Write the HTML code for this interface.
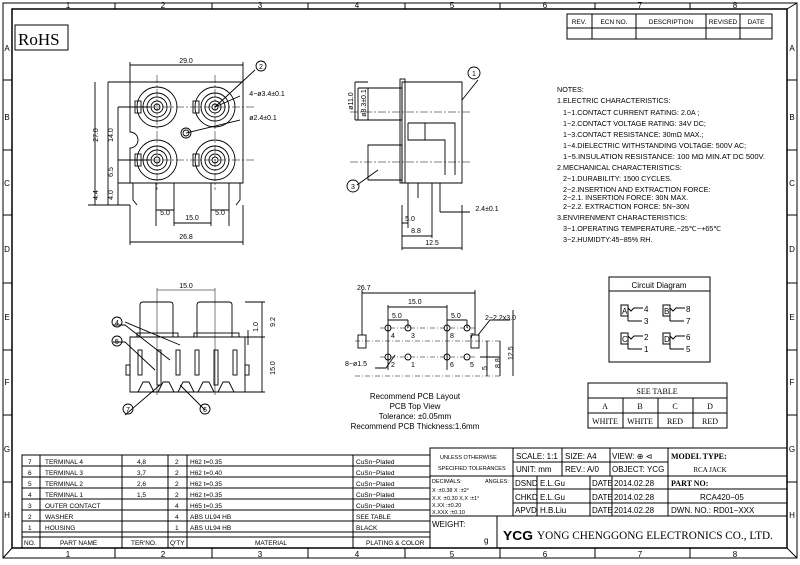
<!DOCTYPE html>
<html><head><meta charset="utf-8"><style>
html,body{margin:0;padding:0;background:#fff;}
svg{display:block;font-family:"Liberation Sans",sans-serif;}
</style></head><body>
<svg width="800" height="565" viewBox="0 0 800 565" xmlns="http://www.w3.org/2000/svg">
<rect width="800" height="565" fill="#fff"/>
<g stroke="#000" fill="none" stroke-width="1">
<rect x="3" y="3" width="794" height="555"/>
<rect x="12" y="9" width="775" height="539" stroke-width="1.5"/>
<line x1="3" y1="558" x2="12" y2="548"/><line x1="797" y1="3" x2="787" y2="9"/><line x1="797" y1="558" x2="787" y2="548"/>
<path d="M115 3V9M212 3V9M308 3V9M405 3V9M500 3V9M595 3V9M690 3V9M115 548V558M212 548V558M308 548V558M405 548V558M500 548V558M595 548V558M690 548V558"/>
<path d="M3 80H12M3 150H12M3 215H12M3 283H12M3 350H12M3 415H12M3 482H12M787 80H797M787 150H797M787 215H797M787 283H797M787 350H797M787 415H797M787 482H797"/>
<rect x="15" y="25" width="53" height="25"/>
<rect x="567" y="14" width="205" height="25"/>
<path d="M567 28H772M592 14V39M636 14V39M706 14V39M740 14V39"/>
<rect x="22" y="455" width="408" height="93"/>
<path d="M22 466H430M22 477H430M22 488H430M22 499H430M22 510H430M22 521H430M22 532H430M22 537H430"/>
<path d="M40 455V548M122 455V548M168 455V548M187 455V548M353 455V548"/>
<rect x="430" y="448" width="357" height="100"/>
<path d="M513 448V516M430 476H513M430 516H787M497 516V548"/>
<path d="M513 462H668M513 476H787M513 489H668M513 503H787M562 448V476M610 448V476M668 448V516M537 476V516M590 476V516M612 476V516M668 489H787"/>
<rect x="609" y="277" width="101" height="85"/>
<path d="M609 291H710"/>
<rect x="621" y="305" width="7" height="11"/><rect x="663" y="305" width="7" height="11"/>
<rect x="621" y="333" width="7" height="11"/><rect x="663" y="333" width="7" height="11"/>
<path d="M628 308l3 3 3-3h9M628 321h14M670 308l3 3 3-3h9M670 321h14M628 336l3 3 3-3h9M628 349h14M670 336l3 3 3-3h9M670 349h14M628 316V321M670 316V321M628 344V349M670 344V349"/>
<rect x="588" y="383" width="139" height="45"/>
<path d="M588 398H727M588 413H727M623 398V428M658 398V428M693 398V428"/>
</g>
<g fill="#000" font-size="8" text-anchor="middle">
<text x="68" y="8">1</text><text x="163" y="8">2</text><text x="260" y="8">3</text><text x="357" y="8">4</text><text x="452" y="8">5</text><text x="545" y="8">6</text><text x="640" y="8">7</text><text x="735" y="8">8</text>
<text x="68" y="557">1</text><text x="163" y="557">2</text><text x="260" y="557">3</text><text x="357" y="557">4</text><text x="452" y="557">5</text><text x="545" y="557">6</text><text x="640" y="557">7</text><text x="735" y="557">8</text>
<text x="7" y="51">A</text><text x="7" y="120">B</text><text x="7" y="186">C</text><text x="7" y="252">D</text><text x="7" y="320">E</text><text x="7" y="385">F</text><text x="7" y="452">G</text><text x="7" y="518">H</text>
<text x="792" y="51">A</text><text x="792" y="120">B</text><text x="792" y="186">C</text><text x="792" y="252">D</text><text x="792" y="320">E</text><text x="792" y="385">F</text><text x="792" y="452">G</text><text x="792" y="518">H</text>
</g>
<text x="18" y="45" font-family="Liberation Serif,serif" font-size="17">RoHS</text>
<g font-size="6.5" text-anchor="middle">
<text x="579" y="24">REV.</text><text x="614" y="24">ECN NO.</text><text x="671" y="24">DESCRIPTION</text><text x="723" y="24">REVISED</text><text x="756" y="24">DATE</text>
</g>
<g font-size="6.5">
<text x="28" y="464">7</text><text x="45" y="464">TERMINAL 4</text><text x="137" y="464">4,8</text><text x="175" y="464">2</text><text x="190" y="464">H62 t=0.35</text><text x="356" y="464">CuSn−Plated</text>
<text x="28" y="475">6</text><text x="45" y="475">TERMINAL 3</text><text x="137" y="475">3,7</text><text x="175" y="475">2</text><text x="190" y="475">H62 t=0.40</text><text x="356" y="475">CuSn−Plated</text>
<text x="28" y="486">5</text><text x="45" y="486">TERMINAL 2</text><text x="137" y="486">2,6</text><text x="175" y="486">2</text><text x="190" y="486">H62 t=0.35</text><text x="356" y="486">CuSn−Plated</text>
<text x="28" y="497">4</text><text x="45" y="497">TERMINAL 1</text><text x="137" y="497">1,5</text><text x="175" y="497">2</text><text x="190" y="497">H62 t=0.35</text><text x="356" y="497">CuSn−Plated</text>
<text x="28" y="508">3</text><text x="45" y="508">OUTER CONTACT</text><text x="175" y="508">4</text><text x="190" y="508">H65 t=0.35</text><text x="356" y="508">CuSn−Plated</text>
<text x="28" y="519">2</text><text x="45" y="519">WASHER</text><text x="175" y="519">4</text><text x="190" y="519">ABS UL94 HB</text><text x="356" y="519">SEE TABLE</text>
<text x="28" y="530">1</text><text x="45" y="530">HOUSING</text><text x="175" y="530">1</text><text x="190" y="530">ABS UL94 HB</text><text x="356" y="530">BLACK</text>
<text x="24" y="545">NO.</text><text x="60" y="545">PART NAME</text><text x="131" y="545">TER'NO.</text><text x="170" y="545">Q'TY</text><text x="255" y="545">MATERIAL</text><text x="366" y="545">PLATING &amp; COLOR</text>
</g>
<g font-size="5.5">
<text x="440" y="459">UNLESS OTHERWISE</text><text x="438" y="470">SPECIFIED TOLERANCES</text>
<text x="432" y="483">DECIMALS:</text><text x="485" y="483">ANGLES:</text>
<text x="432" y="492">X    :±0.38  X  :±2°</text><text x="432" y="500">X.X  :±0.30  X.X :±1°</text>
<text x="432" y="507">X.XX :±0.20</text><text x="432" y="514">X.XXX :±0.10</text>
</g>
<g font-size="8">
<text x="432" y="527">WEIGHT:</text><text x="484" y="543">g</text>
<text x="516" y="459">SCALE: 1:1</text><text x="565" y="459">SIZE: A4</text><text x="612" y="459">VIEW: ⊕ ⊲</text>
<text x="516" y="472">UNIT: mm</text><text x="565" y="472">REV.: A/0</text><text x="612" y="472">OBJECT: YCG</text>
<text x="515" y="486">DSND</text><text x="540" y="486">E.L.Gu</text><text x="592" y="486">DATE</text><text x="614" y="486">2014.02.28</text>
<text x="515" y="500">CHKD</text><text x="540" y="500">E.L.Gu</text><text x="592" y="500">DATE</text><text x="614" y="500">2014.02.28</text>
<text x="515" y="513">APVD</text><text x="540" y="513">H.B.Liu</text><text x="592" y="513">DATE</text><text x="614" y="513">2014.02.28</text>
<text x="671" y="513">DWN. NO.: RD01−XXX</text><text x="700" y="500">RCA420−05</text>
</g>
<g font-family="Liberation Serif,serif" font-weight="bold" font-size="8">
<text x="671" y="459">MODEL TYPE:</text><text x="671" y="486">PART NO:</text>
</g>
<text x="710" y="472" font-family="Liberation Serif,serif" font-size="7" text-anchor="middle">RCA JACK</text>
<text x="503" y="540" font-family="Liberation Sans,sans-serif" font-weight="bold" font-size="13" textLength="30" lengthAdjust="spacingAndGlyphs">YCG</text>
<text x="537" y="539" font-family="Liberation Serif,serif" font-size="11.5" textLength="236" lengthAdjust="spacingAndGlyphs">YONG CHENGGONG ELECTRONICS CO., LTD.</text>
<g font-size="7.2">
<text x="557" y="92">NOTES:</text>
<text x="557" y="103">1.ELECTRIC CHARACTERISTICS:</text>
<text x="563" y="115">1−1.CONTACT CURRENT RATING: 2.0A ;</text>
<text x="563" y="126">1−2.CONTACT VOLTAGE RATING: 34V DC;</text>
<text x="563" y="137">1−3.CONTACT RESISTANCE: 30mΩ MAX.;</text>
<text x="563" y="148">1−4.DIELECTRIC WITHSTANDING VOLTAGE: 500V AC;</text>
<text x="563" y="159" textLength="202" lengthAdjust="spacingAndGlyphs">1−5.INSULATION RESISTANCE: 100 MΩ MIN.AT DC 500V.</text>
<text x="557" y="170">2.MECHANICAL CHARACTERISTICS:</text>
<text x="563" y="181">2−1.DURABILITY: 1500 CYCLES.</text>
<text x="563" y="192">2−2.INSERTION AND EXTRACTION FORCE:</text>
<text x="563" y="200">2−2.1. INSERTION FORCE:    30N MAX.</text>
<text x="563" y="209">2−2.2. EXTRACTION FORCE: 5N~30N</text>
<text x="557" y="220">3.ENVIRENMENT CHARACTERISTICS:</text>
<text x="563" y="231">3−1.OPERATING TEMPERATURE.−25℃~+65℃</text>
<text x="563" y="242">3−2.HUMIDTY:45−85% RH.</text>
</g>
<g font-size="8">
<text x="659" y="288" text-anchor="middle">Circuit Diagram</text>
<text x="622" y="314">A</text><text x="664" y="314">B</text><text x="622" y="342">C</text><text x="664" y="342">D</text>
<text x="644" y="312">4</text><text x="644" y="324">3</text><text x="686" y="312">8</text><text x="686" y="324">7</text>
<text x="644" y="340">2</text><text x="644" y="352">1</text><text x="686" y="340">6</text><text x="686" y="352">5</text>
</g>
<g font-family="Liberation Serif,serif" font-size="8" text-anchor="middle">
<text x="657" y="394">SEE TABLE</text>
<text x="605" y="409">A</text><text x="640" y="409">B</text><text x="675" y="409">C</text><text x="710" y="409">D</text>
<text x="605" y="424">WHITE</text><text x="640" y="424">WHITE</text><text x="675" y="424">RED</text><text x="710" y="424">RED</text>
</g>
<g stroke="#000" fill="none" stroke-width="0.9">
<path d="M130 82H243V183H130V148a8 8 0 0 0 0-16Z"/>
<path d="M130 62V82M243 62V82M130 65H243"/>
<circle cx="157" cy="107" r="20"/><circle cx="157" cy="107" r="14"/><circle cx="157" cy="107" r="10"/><circle cx="157" cy="107" r="6"/><circle cx="157" cy="107" r="3"/>
<circle cx="215" cy="107" r="20"/><circle cx="215" cy="107" r="14"/><circle cx="215" cy="107" r="10"/><circle cx="215" cy="107" r="6"/><circle cx="215" cy="107" r="3"/>
<circle cx="157" cy="160" r="20"/><circle cx="157" cy="160" r="14"/><circle cx="157" cy="160" r="10"/><circle cx="157" cy="160" r="6"/><circle cx="157" cy="160" r="3"/>
<circle cx="215" cy="160" r="20"/><circle cx="215" cy="160" r="14"/><circle cx="215" cy="160" r="10"/><circle cx="215" cy="160" r="6"/><circle cx="215" cy="160" r="3"/>
<rect x="135" y="101" width="6" height="12"/><rect x="193" y="101" width="6" height="12"/><rect x="135" y="154" width="6" height="12"/><rect x="193" y="154" width="6" height="12"/>
<circle cx="186" cy="133" r="5"/><circle cx="186" cy="133" r="3"/>
<path d="M120 107H255M120 160H255M157 75V190M215 75V190" stroke-dasharray="8 2 2 2" stroke-width="0.5"/>
<path d="M156 183V205M174 183V205M211 183V205M229 183V205M133 183V200l4 5M240 183V200l-4 5"/>
<path d="M108 82H130M108 82V205M95 82V205M88 205H130M118 107H150M118 160H150M118 107V205M118 183H130"/>
<path d="M156 205V226M174 205V226M211 205V226M229 205V226M130 205V245M243 205V245M130 242H243M174 223H211M156 210H174M211 210H229"/>
<path d="M215 107L255 70M215 107L240 96M186 133L240 120"/>
<circle cx="261" cy="66" r="5"/>
</g>
<g font-size="7" text-anchor="middle">
<text x="186" y="63">29.0</text><text x="186" y="239">26.8</text><text x="192" y="220">15.0</text><text x="165" y="215">5.0</text><text x="220" y="215">5.0</text>
<text x="261" y="69">2</text><text x="267" y="96">4−ø3.4±0.1</text><text x="263" y="120">ø2.4±0.1</text>
<text transform="translate(98 135) rotate(-90)">27.0</text><text transform="translate(113 135) rotate(-90)">14.0</text>
<text transform="translate(113 172) rotate(-90)">6.5</text><text transform="translate(113 195) rotate(-90)">4.0</text><text transform="translate(98 195) rotate(-90)">4.4</text>
</g>
<g stroke="#000" fill="none" stroke-width="0.9">
<path d="M402 82H462V183H402Z"/><rect x="400" y="79" width="5" height="104"/>
<path d="M368 88H402V120H368Z"/><path d="M368 145H402V180H368Z"/>
<path d="M408 123H455V175"/><path d="M408 123V140H445V175"/><path d="M425 123V140"/>
<path d="M350 112H470M350 162H470" stroke-dasharray="8 2 2 2" stroke-width="0.5"/>
<path d="M408 183V205M440 183V205M418 183V198M432 183V205"/>
<path d="M355 82H368M355 120H368M358 88H368M358 120H368M355 82V120M358 88V120"/>
<path d="M402 205V250M408 205V228M432 205V238M440 205V212M462 205V250M402 248H462M402 236H432M402 223H408M440 212H470"/>
<path d="M478 80L462 100M357 185L378 170"/><circle cx="474" cy="73" r="6"/><circle cx="353" cy="186" r="6"/>
</g>
<g font-size="7" text-anchor="middle">
<text x="474" y="76">1</text><text x="353" y="189">3</text>
<text x="432" y="245">12.5</text><text x="416" y="233">8.8</text><text x="410" y="221">5.0</text><text x="487" y="211">2.4±0.1</text>
<text transform="translate(353 101) rotate(-90)">ø11.0</text><text transform="translate(366 103) rotate(-90)">ø8.3±0.1</text>
</g>
<g stroke="#000" fill="none" stroke-width="0.9">
<path d="M130 337H245V392H130Z"/>
<path d="M140 337V305q0-3 3-3h27q3 0 3 3V337M197 337V305q0-3 3-3h29q3 0 3 3V337"/>
<rect x="137" y="333" width="41" height="4"/><rect x="194" y="333" width="45" height="4"/>
<path d="M138 392l5-10h6l5 10M158 392l5-10h6l5 10M178 392l5-10h6l5 10M198 392l5-10h6l5 10M218 392l5-10h6l5 10"/>
<rect x="138" y="350" width="4" height="25"/><rect x="157" y="350" width="4" height="35"/><rect x="176" y="350" width="4" height="25"/><rect x="195" y="350" width="4" height="25"/><rect x="214" y="350" width="4" height="35"/><rect x="233" y="350" width="4" height="25"/>
<rect x="126" y="365" width="4" height="10"/><rect x="245" y="365" width="4" height="10"/>
<path d="M157 288V395M215 288V395M157 290H215" stroke-width="0.5"/>
<path d="M245 302H265M245 337H265M245 392H265M262 302V392M248 330V345"/>
<path d="M113 325H125L170 360M113 342H125L155 370M125 415L160 385M205 410L180 385M125 322L180 345"/>
<circle cx="117" cy="322" r="5"/><circle cx="117" cy="341" r="5"/><circle cx="128" cy="409" r="5"/><circle cx="205" cy="409" r="5"/>
</g>
<g font-size="7" text-anchor="middle">
<text x="186" y="288">15.0</text>
<text x="117" y="325">4</text><text x="117" y="344">5</text><text x="128" y="412">7</text><text x="205" y="412">6</text>
<text transform="translate(258 327) rotate(-90)">1.0</text><text transform="translate(275 322) rotate(-90)">9.2</text><text transform="translate(275 368) rotate(-90)">15.0</text>
</g>
<g stroke="#000" fill="none" stroke-width="0.9">
<circle cx="388" cy="328" r="3"/><circle cx="408" cy="328" r="3"/><circle cx="447" cy="328" r="3"/><circle cx="467" cy="328" r="3"/>
<circle cx="388" cy="357" r="3"/><circle cx="408" cy="357" r="3"/><circle cx="447" cy="357" r="3"/><circle cx="467" cy="357" r="3"/>
<rect x="358" y="335" width="8" height="13"/><rect x="471" y="335" width="8" height="13"/>
<path d="M355 341H500M380 328H475M380 357H475M355 376H500" stroke-dasharray="5 2 1 2" stroke-width="0.5"/>
<path d="M362 290V335M475 290V335M362 293H475M388 305V370M447 305V370M388 307H447M388 320V328M408 320V328M447 320V328M467 320V328M388 320H408M447 320H467"/>
<path d="M478 335L490 320H510M375 368H386L395 355M480 357H500M487 341V376M500 341V376M513 310V376"/>
</g>
<g font-size="7">
<text x="357" y="290">26.7</text><text x="408" y="304">15.0</text><text x="392" y="318">5.0</text><text x="451" y="318">5.0</text>
<text x="485" y="320">2−2.2x3.0</text><text x="345" y="366">8−ø1.5</text>
<text x="391" y="338">4</text><text x="411" y="338">3</text><text x="450" y="338">8</text><text x="470" y="338">7</text>
<text x="391" y="367">2</text><text x="411" y="367">1</text><text x="450" y="367">6</text><text x="470" y="367">5</text>
<text transform="translate(487 370) rotate(-90)">5</text><text transform="translate(500 368) rotate(-90)">8.8</text><text transform="translate(513 360) rotate(-90)">12.5</text>
</g>
<g font-size="8" text-anchor="middle">
<text x="415" y="399">Recommend PCB Layout</text><text x="415" y="409">PCB Top View</text>
<text x="415" y="419">Tolerance: ±0.05mm</text><text x="415" y="429">Recommend PCB Thickness:1.6mm</text>
</g>
</svg>
</body></html>
